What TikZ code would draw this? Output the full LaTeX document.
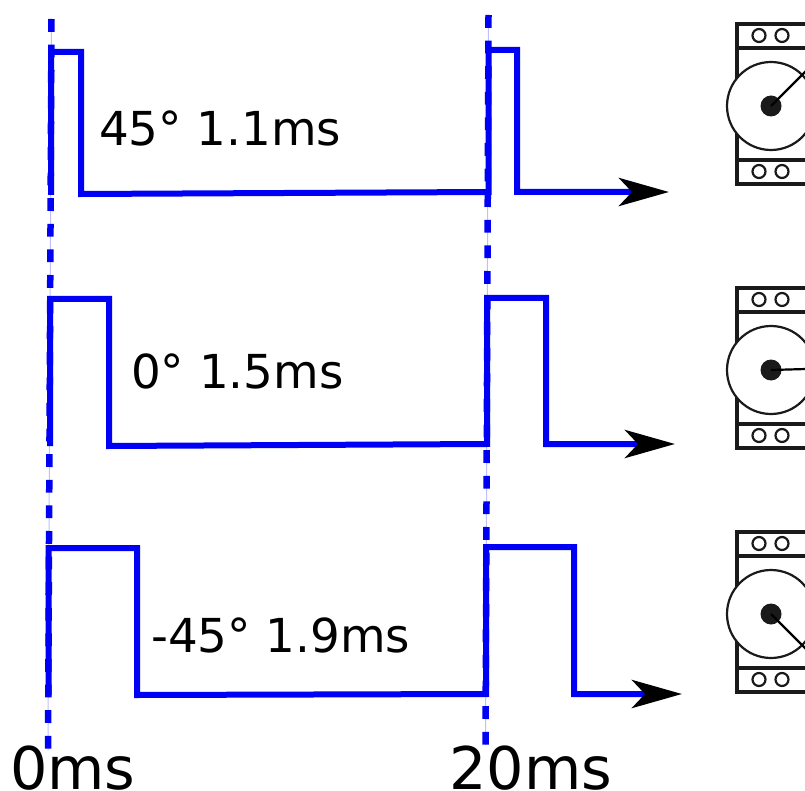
\documentclass[tikz,border=0pt]{standalone}
\usepackage{fontspec}
\setmainfont{DejaVu Sans}
\usetikzlibrary{arrows.meta}
\definecolor{sig}{RGB}{0,0,245}
\definecolor{ink}{RGB}{26,26,26}
\tikzset{
  x=1pt,y=-1pt,
  wave/.style={draw=sig,line width=6pt,miter limit=10},
  wavearrow/.style={wave,-{Stealth[length=50pt,width=28pt,inset=13pt,color=black]}},
  guide/.style={draw=sig,line width=6.5pt,dash pattern=on 12.8pt off 12.8pt},
  guidethin/.style={draw=sig!25,line width=1pt},
  lab/.style={anchor=base west,inner sep=0pt,text=black,font=\fontsize{46.8}{47}\selectfont},
  timelab/.style={anchor=base west,inner sep=0pt,text=black,font=\fontsize{58.8}{59}\selectfont},
  frame/.style={draw=ink,line width=3.6pt},
  hole/.style={draw=ink,line width=2.2pt,fill=white},
  disc/.style={draw=ink,line width=2.2pt,fill=white},
  hub/.style={circle,fill=ink,inner sep=0pt,minimum size=21pt},
  needle/.style={draw=black,line width=2.2pt},
}
\newcommand{\servoblock}[3]{% #1 name, #2 top y, #3 needle end y offset from centre
  \begin{scope}[yshift=-#2pt]
    \draw[frame] (816,0) -- (737,0) -- (737,160) -- (816,160);
    \draw[frame] (737,24) -- (816,24);
    \draw[frame] (737,136) -- (816,136);
    \foreach \hx in {759,782}{
      \draw[hole] (\hx,11.5) circle[radius=6.5];
      \draw[hole] (\hx,147.5) circle[radius=6.5];
    }
    \draw[disc] (771,82) circle[radius=44];
    \node[hub] (#1hub) at (771,82) {};
    \coordinate (#1tip) at (806,{82+#3});
    \draw[needle] (#1hub.center) -- (#1tip);
  \end{scope}
}
\begin{document}
\begin{tikzpicture}
\useasboundingbox (0,0) rectangle (805,791);
\clip (0,0) rectangle (805,791);
% guides
\coordinate (g1a) at (51.5,19);
\coordinate (g1b) at (48,750);
\coordinate (g2a) at (488.5,15);
\coordinate (g2b) at (485.5,745);
\draw[guidethin] (g1a) -- (g1b);
\draw[guidethin] (g2a) -- (g2b);
\draw[guide] (g1a) -- (g1b);
\draw[guide] (g2a) -- (g2b);
% row 1
\coordinate (a0) at (51,195);
\coordinate (a1) at (51,52);
\coordinate (a2) at (81,52);
\coordinate (a3) at (81,194);
\coordinate (a4) at (488.5,192);
\coordinate (a5) at (488.5,50);
\coordinate (a6) at (517,50);
\coordinate (a7) at (517,192);
\coordinate (a8) at (669,192);
\draw[wavearrow] (a0) -- (a1) -- (a2) -- (a3) -- (a4) -- (a5) -- (a6) -- (a7) -- (a8);
% row 2
\coordinate (b0) at (50,446);
\coordinate (b1) at (50,299);
\coordinate (b2) at (109,299);
\coordinate (b3) at (109,446);
\coordinate (b4) at (487,444);
\coordinate (b5) at (487,298);
\coordinate (b6) at (546,298);
\coordinate (b7) at (546,444);
\coordinate (b8) at (675,444);
\draw[wavearrow] (b0) -- (b1) -- (b2) -- (b3) -- (b4) -- (b5) -- (b6) -- (b7) -- (b8);
% row 3
\coordinate (c0) at (48.5,695);
\coordinate (c1) at (48.5,548);
\coordinate (c2) at (137,548);
\coordinate (c3) at (137,695);
\coordinate (c4) at (486,694);
\coordinate (c5) at (486,547);
\coordinate (c6) at (574,547);
\coordinate (c7) at (574,694);
\coordinate (c8) at (682,694);
\draw[wavearrow] (c0) -- (c1) -- (c2) -- (c3) -- (c4) -- (c5) -- (c6) -- (c7) -- (c8);
% labels
\node[lab] (l1) at (99,146) {45° 1.1ms};
\node[lab] (l2) at (131,388) {0° 1.5ms};
\node[lab] (l3) at (151,652) {-45° 1.9ms};
\node[timelab] (t0) at (10,789.5) {0ms};
\node[timelab] (t20) at (449,789.5) {20ms};
% servos
\servoblock{s1}{24}{-35}
\servoblock{s2}{288}{-1}
\servoblock{s3}{532}{35}
\end{tikzpicture}
\end{document}
